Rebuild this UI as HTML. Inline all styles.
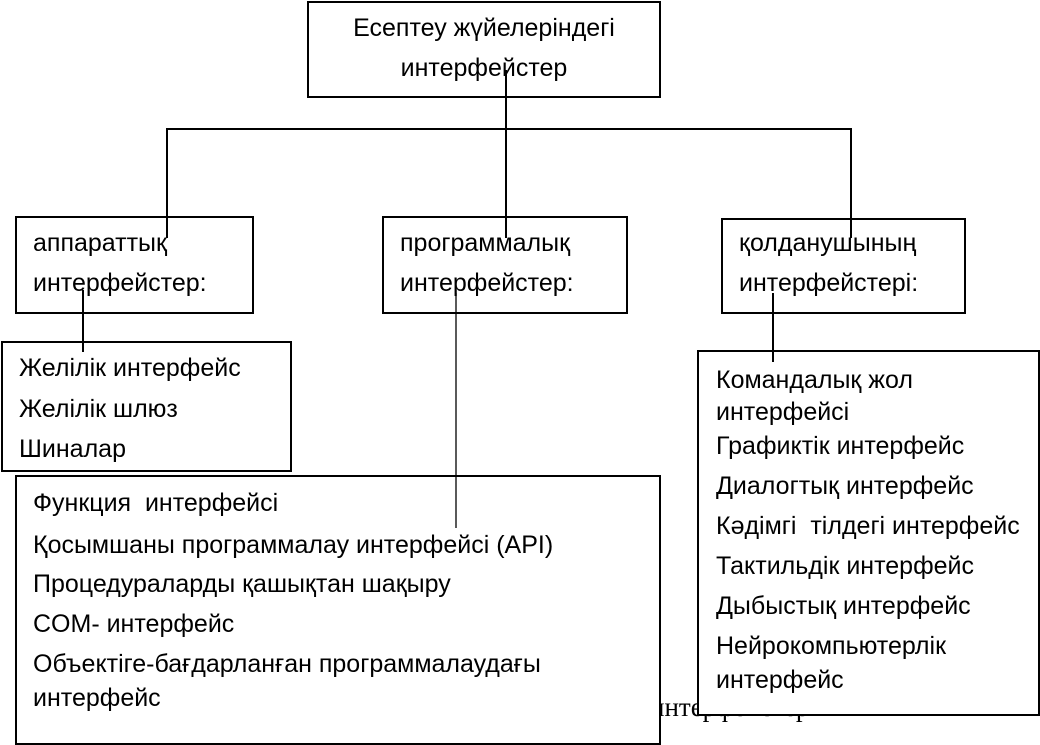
<!DOCTYPE html>
<html><head><meta charset="utf-8"><style>
body{margin:0;width:1040px;height:741px;background:#fff;position:relative;overflow:hidden;font-family:"Liberation Sans","DejaVu Sans",sans-serif;font-size:25px;color:#000}
.b{position:absolute;border:2px solid #000;background:#fff;box-sizing:border-box}
.t{position:absolute;white-space:nowrap;line-height:26px;height:26px}
svg{position:absolute;left:0;top:0}
</style></head><body>
<div class="t" style="left:650px;top:694px;font-family:'Liberation Serif',serif;font-size:27px">интерфейстер</div>
<div class="b" style="left:307px;top:1px;width:354px;height:97px"></div>
<div class="b" style="left:15px;top:216px;width:239px;height:98px"></div>
<div class="b" style="left:382px;top:216px;width:246px;height:98px"></div>
<div class="b" style="left:721px;top:218px;width:245px;height:96px"></div>
<div class="b" style="left:1px;top:341px;width:291px;height:131px"></div>
<div class="b" style="left:15px;top:475px;width:646px;height:270px"></div>
<div class="b" style="left:697px;top:350px;width:343px;height:366px"></div>

<div class="t" style="left:307px;width:354px;text-align:center;top:15px">Есептеу жүйелеріндегі</div>
<div class="t" style="left:307px;width:354px;text-align:center;top:55px">интерфейстер</div>
<div class="t" style="left:33px;top:230px">аппараттық</div>
<div class="t" style="left:33px;top:270px">интерфейстер:</div>
<div class="t" style="left:400px;top:230px">программалық</div>
<div class="t" style="left:400px;top:270px">интерфейстер:</div>
<div class="t" style="left:739px;top:230px">қолданушының</div>
<div class="t" style="left:739px;top:270px">интерфейстері:</div>
<div class="t" style="left:19px;top:355px">Желілік интерфейс</div>
<div class="t" style="left:19px;top:396px">Желілік шлюз</div>
<div class="t" style="left:19px;top:436px">Шиналар</div>
<div class="t" style="left:33px;top:490px">Функция&nbsp; интерфейсі</div>
<div class="t" style="left:33px;top:532px">Қосымшаны программалау интерфейсі (API)</div>
<div class="t" style="left:33px;top:571px">Процедураларды қашықтан шақыру</div>
<div class="t" style="left:33px;top:611px">COM- интерфейс</div>
<div class="t" style="left:33px;top:651px">Объектіге-бағдарланған программалаудағы</div>
<div class="t" style="left:33px;top:685px">интерфейс</div>
<div class="t" style="left:716px;top:367px">Командалық жол</div>
<div class="t" style="left:716px;top:399px">интерфейсі</div>
<div class="t" style="left:716px;top:433px">Графиктік интерфейс</div>
<div class="t" style="left:716px;top:473px">Диалогтық интерфейс</div>
<div class="t" style="left:716px;top:513px">Кәдімгі&nbsp; тілдегі интерфейс</div>
<div class="t" style="left:716px;top:553px">Тактильдік интерфейс</div>
<div class="t" style="left:716px;top:593px">Дыбыстық интерфейс</div>
<div class="t" style="left:716px;top:633px">Нейрокомпьютерлік</div>
<div class="t" style="left:716px;top:667px">интерфейс</div>

<svg width="1040" height="741">
<g stroke="#000" stroke-width="2" fill="none">
<line x1="506" y1="70" x2="506" y2="238"/>
<polyline points="167,238 167,129 851,129 851,238"/>
<line x1="83" y1="290" x2="83" y2="352"/>
<line x1="773" y1="293" x2="773" y2="362"/>
</g>
<line x1="456" y1="293" x2="456" y2="528" stroke="#000" stroke-width="1.3"/>
</svg>
</body></html>
